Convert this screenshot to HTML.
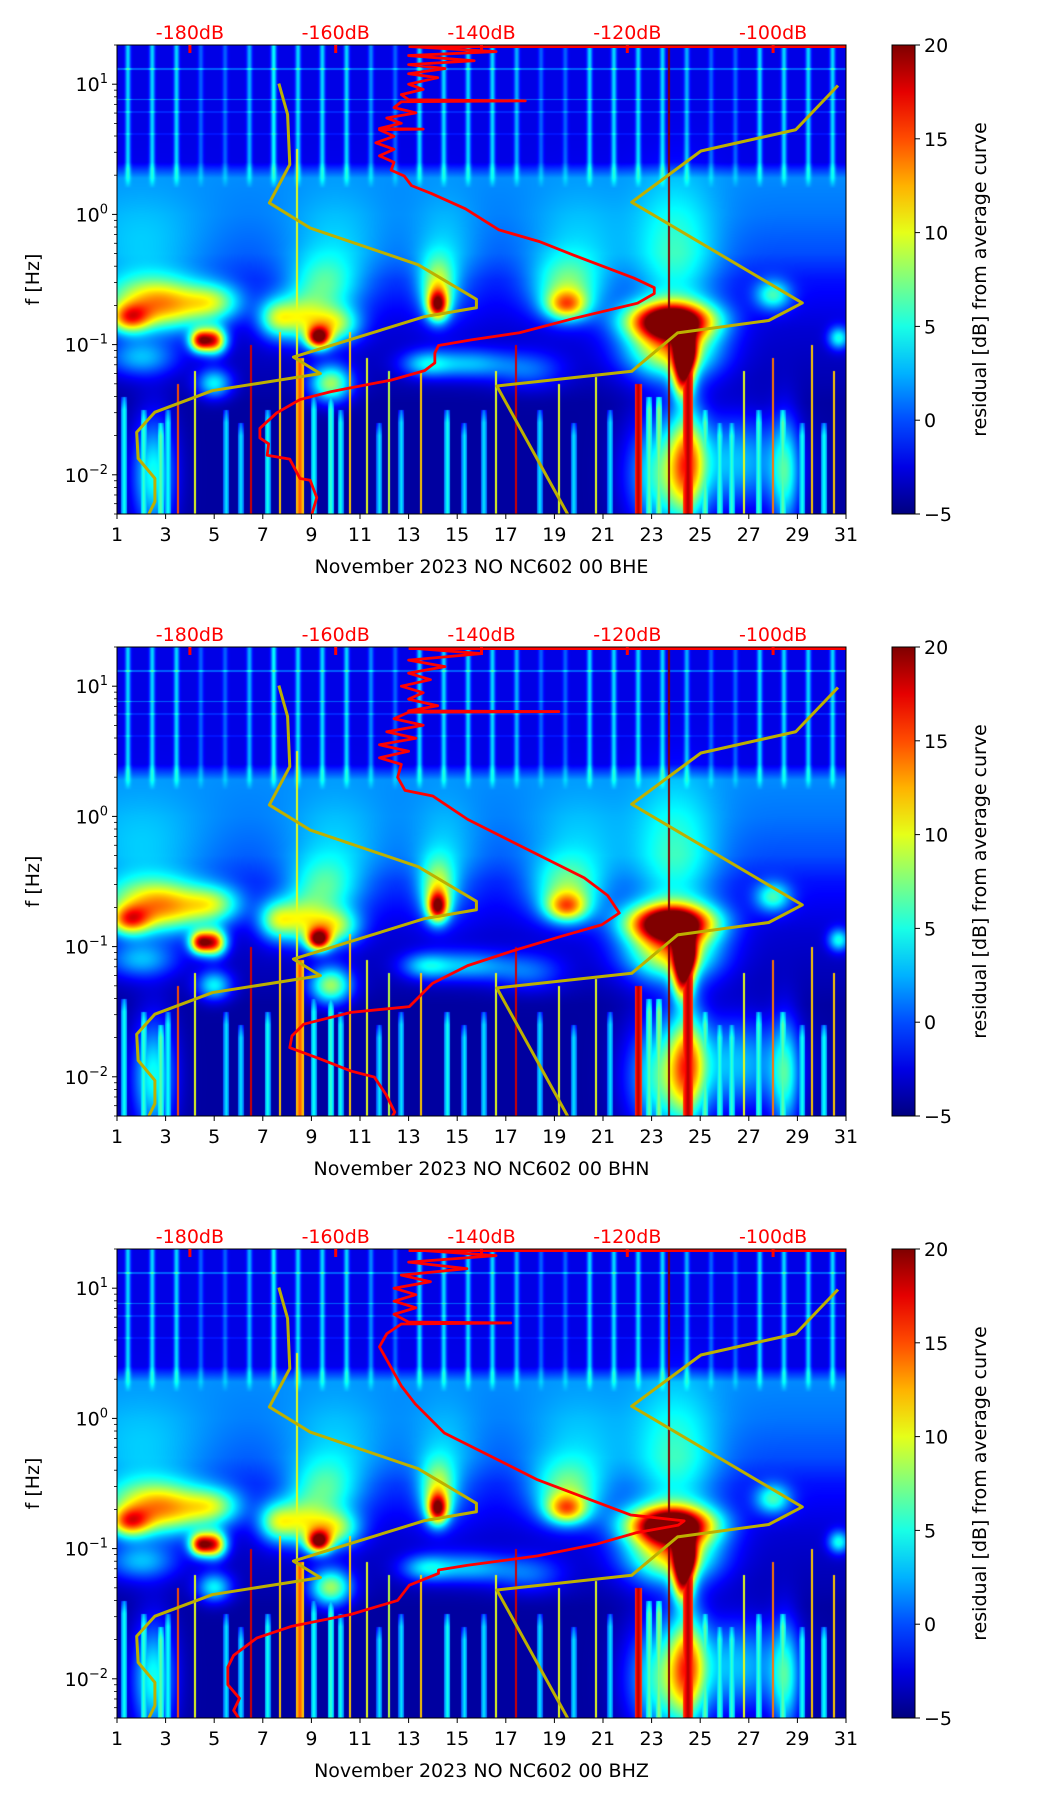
<!DOCTYPE html>
<html><head><meta charset="utf-8">
<style>
html,body{margin:0;padding:0;background:#fff;}
#wrap{position:relative;width:1052px;height:1806px;overflow:hidden;font-family:"DejaVu Sans","Liberation Sans",sans-serif;}
canvas{position:absolute;}
svg{position:absolute;left:0;top:0;}
</style></head>
<body>
<div id="wrap">
<svg id="ov" width="1052" height="1806"></svg>
</div>
<script>
// ---- data ----
const dayTicks=[1,3,5,7,9,11,13,15,17,19,21,23,25,27,29,31];
const dbTicks=[-180,-160,-140,-120,-100];
const cbTicks=[-5,0,5,10,15,20];
const fDecades=[-2,-1,0,1];
const channels=["BHE","BHN","BHZ"];
// background level per log10(f)
const baseLogf=[1.31,0.40,0.28,0.0,-0.3,-0.5,-0.9,-1.3,-1.45,-2.31];
const baseVal=[-2.5,-2.5,1.5,1,0,-1.5,-3,-3.8,-4.2,-4.2];
// daily cultural-noise stripe amplitude (day 1..30)
const dayAmp=[6,6,6,3,3,5,7,6,6,6,4,3,6,6,6,6,5,3,3,6,6,6,6,5,3,3,6,6,6,6];
// blobs: day, log10 f, sigma day, sigma logf, amplitude dB
const blobs=[
[1.5,-0.8,0.6,0.08,13],[3,-0.75,1.2,0.12,9],[4.4,-0.97,0.3,0.06,17],[5.0,-0.97,0.35,0.07,18],
[2.5,-0.62,1.5,0.12,8],[5,-0.68,0.8,0.1,8],[8.5,-0.8,0.8,0.12,10],[9.3,-0.95,0.35,0.06,19],
[10,-0.85,0.7,0.1,10],[9.5,-0.55,1,0.15,6],[14.2,-0.7,0.3,0.08,17],[14.2,-0.55,0.5,0.15,9],
[19.5,-0.7,0.6,0.08,12],[19.5,-0.55,1,0.15,7],[23.8,-0.82,1.2,0.1,26],[24.4,-1.05,0.3,0.1,20],
[24.3,-1.25,0.3,0.12,16],[23.8,-1.05,1.3,0.15,13],[24,-0.4,1.2,0.4,6],[28,-0.62,0.5,0.08,8],
[30.7,-0.95,0.3,0.06,8],[5,-1.3,0.5,0.08,8],[9.8,-1.3,0.6,0.1,12],[13.7,-1.15,0.7,0.07,6],
[15.5,-1.15,1.2,0.08,6],[18,-1.2,1,0.1,4],[2.5,-2.0,0.6,0.3,9],[23.5,-2.0,1.0,0.3,10],
[24.5,-1.9,0.5,0.3,12],[26.5,-1.9,1.5,0.25,7],[28.5,-2.0,0.4,0.3,8],
[2,-0.3,2,0.3,3],[10,-0.3,1.5,0.3,3],[20,-0.3,1.5,0.3,3],[14.5,-0.35,1,0.3,3],
[2,-1.1,1,0.1,6],[7.5,-0.8,0.5,0.1,7]];
// earthquake streaks: day, top log10 f, value
const quakes=[[6.5,-1.0,18],[8.4,0.5,10],[3.5,-1.3,15],[17.4,-1.0,18],[23.7,1.31,20],[10.6,-0.9,12],
[13.5,-1.2,12],[16.6,-1.2,10],[28,-1.1,14],[29.6,-1.0,12],[11.3,-1.1,10],[19.2,-1.3,10],[26.8,-1.2,10],
[30.5,-1.2,12],[4.2,-1.2,10],[7.7,-0.9,12],[12.2,-1.2,9],[20.7,-1.25,10]];
// faint long-period streaks: day, top log10 f, value
const faint=[[1.3,-1.4,5],[2.1,-1.5,6],[2.8,-1.6,7],[3.1,-1.5,5],[5.5,-1.5,4],[6.1,-1.6,4],[7.2,-1.5,5],[9.1,-1.4,5],[9.8,-1.4,6],[10.2,-1.5,5],[11.8,-1.6,4],[12.7,-1.5,4],[14.6,-1.5,5],[15.3,-1.6,4],[16.1,-1.5,4],[18.4,-1.5,4],[19.8,-1.6,4],[21.3,-1.5,4],[22.9,-1.4,7],[23.3,-1.4,8],[25.2,-1.5,7],[25.8,-1.6,6],[26.3,-1.6,6],[27.4,-1.5,6],[28.4,-1.5,7],[29.2,-1.6,5],[30.1,-1.6,5]];
// broad streak bands: day start, day end, top log10 f, value
const bands=[[8.35,8.7,-1.1,15],[22.3,22.6,-1.3,19],[24.3,24.7,-1.0,19]];
// horizontal lines: log10 f, value
const hLines=[[0.886,3],[1.12,3],[0.79,1.5],[0.62,1]];
// Peterson low / high noise models (dB, log10 f)
const nlnmDb=[-167.8,-166.6,-166.3,-169.1,-163.5,-148.7,-140.7,-140.7,-147.8,-165.8,-162.1,-176.9,-184.8,-187.3,-187.1,-184.8,-184.8,-185.7];
const nlnmLf=[1.005,0.768,0.383,0.088,-0.105,-0.386,-0.652,-0.717,-0.785,-1.096,-1.223,-1.353,-1.519,-1.673,-1.874,-2.028,-2.205,-2.31];
const nhnmDb=[-91.1,-96.9,-109.9,-119.4,-96.0,-100.6,-113.1,-119.4,-137.9,-128.1];
const nhnmLf=[0.99,0.65,0.487,0.094,-0.68,-0.815,-0.91,-1.205,-1.318,-2.31];
// average curves per channel
const avgDbE=[-150,-138,-150,-141,-150,-145,-150,-146,-150,-148,-151,-150,-134,-151,-152,-149,-153,-151,-154,-148,-154,-152,-154.5,-152,-154,-152,-152.4,-150.6,-149.6,-146.9,-142.2,-137.6,-132.1,-127.4,-119.1,-116.3,-116.3,-118.6,-127.4,-134.8,-141.3,-145.9,-146.4,-146.4,-147.8,-152.4,-158,-160.7,-164.9,-168.1,-170.4,-170.4,-169.2,-169.4,-166.3,-164.9,-163.5,-162.6,-163.3];
const avgLfE=[1.29,1.25,1.22,1.18,1.15,1.12,1.08,1.05,1.0,0.96,0.92,0.88,0.872,0.865,0.82,0.78,0.74,0.70,0.66,0.655,0.65,0.6,0.55,0.5,0.45,0.4,0.34,0.295,0.221,0.161,0.043,-0.119,-0.208,-0.312,-0.489,-0.563,-0.608,-0.682,-0.8,-0.909,-0.963,-1.007,-1.066,-1.14,-1.2,-1.273,-1.332,-1.362,-1.422,-1.525,-1.643,-1.717,-1.762,-1.85,-1.88,-2.028,-2.042,-2.175,-2.31];
const avgDbN=[-149,-140,-150,-145,-150,-147,-151,-148,-150,-146,-150,-129.4,-150,-152,-148,-153,-149,-154,-150,-154,-151,-151.5,-150.5,-146.7,-141.9,-135.5,-130.7,-125.9,-122.7,-121.1,-123.5,-129.1,-135.5,-141.9,-146.7,-148.3,-149.9,-157.9,-164.4,-166,-166.3,-162,-157.9,-154.7,-153.1,-151.9,-152.3];
const avgLfN=[1.29,1.25,1.2,1.15,1.1,1.05,1.0,0.95,0.9,0.85,0.81,0.805,0.80,0.75,0.7,0.65,0.6,0.55,0.5,0.45,0.4,0.3,0.2,0.157,-0.023,-0.203,-0.338,-0.472,-0.607,-0.742,-0.832,-0.922,-1.029,-1.146,-1.281,-1.371,-1.461,-1.505,-1.596,-1.686,-1.776,-1.866,-1.956,-2.002,-2.136,-2.271,-2.31];
const avgDbZ=[-148,-138,-150,-142,-151,-147,-152,-149,-152,-149,-152,-150,-136,-151,-153,-154,-153,-152,-151,-149.1,-145.1,-138.7,-132.3,-125.9,-119.5,-112.2,-113,-118.7,-124.3,-132.3,-141.9,-145.9,-145.9,-149.9,-151.5,-157.9,-166,-170.8,-174,-174.8,-174.8,-173.2,-174,-173.2];
const avgLfZ=[1.29,1.25,1.2,1.15,1.1,1.05,1.0,0.95,0.9,0.85,0.8,0.74,0.733,0.725,0.65,0.55,0.45,0.35,0.25,0.112,-0.112,-0.292,-0.472,-0.607,-0.742,-0.787,-0.82,-0.877,-0.967,-1.056,-1.128,-1.164,-1.191,-1.281,-1.398,-1.505,-1.596,-1.686,-1.82,-1.91,-2.045,-2.15,-2.243,-2.31];

// ---- layout ----
const L=117,R=846,PH=469,GAP=602,T0=45,CBX=892,CBW=23;
const LFTOP=Math.log10(20),LFBOT=Math.log10(0.005);
const xDay=d=>L+(d-1)*(R-L)/30;
const yLf=(lf,t)=>t+(LFTOP-lf)*PH/(LFTOP-LFBOT);
const lfY=(y)=>LFTOP-y*(LFTOP-LFBOT)/PH;
const xDb=db=>L+(db+190)*(R-L)/100;
const VMIN=-5,VMAX=20;
function jet(t){t=Math.max(0,Math.min(1,t));const c=v=>Math.max(0,Math.min(1,v));
return [c(1.5-Math.abs(4*t-3))*255,c(1.5-Math.abs(4*t-2))*255,c(1.5-Math.abs(4*t-1))*255];}
function interp(xs,ys,x){for(let i=0;i<xs.length-1;i++){if(x<=xs[i]&&x>=xs[i+1]){const f=(x-xs[i])/(xs[i+1]-xs[i]);return ys[i]+f*(ys[i+1]-ys[i]);}}return x>xs[0]?ys[0]:ys[ys.length-1];}

const wrap=document.getElementById('wrap');
const svg=document.getElementById('ov');
const NS='http://www.w3.org/2000/svg';
function mk(tag,attrs,parent){const e=document.createElementNS(NS,tag);for(const k in attrs)e.setAttribute(k,attrs[k]);(parent||svg).appendChild(e);return e;}

function heat(canvas){
 const W=R-L,H=PH;canvas.width=W;canvas.height=H;
 const ctx=canvas.getContext('2d');const img=ctx.createImageData(W,H);const d=img.data;
 const pxDay=30/W;
 for(let y=0;y<H;y++){
  const lf=lfY(y+0.5);
  const base=interp(baseLogf,baseVal,lf);
  const sf=Math.max(0,Math.min(1,(lf-0.2)/0.15));
  let hl=0;for(const h of hLines){if(Math.abs(yLf(h[0],0)-y)<0.8)hl=h[1];}
  for(let x=0;x<W;x++){
   const day=1+(x+0.5)*pxDay;
   let v=base+hl;
   if(sf>0){const di=Math.min(29,Math.floor(day-1));const fr=day-Math.floor(day)-0.45;v+=sf*dayAmp[di]*Math.exp(-fr*fr/0.012);}
   for(const b of blobs){const dx=(day-b[0])/b[2];if(dx>4||dx<-4)continue;const dy=(lf-b[1])/b[3];if(dy>4||dy<-4)continue;v+=b[4]*Math.exp(-0.5*(dx*dx+dy*dy));}
   for(const q of faint){if(lf<q[1]){const dd=Math.abs(day-q[0]);if(dd<pxDay*3)v=Math.max(v,q[2]-dd/pxDay*1.2-(q[1]-lf<0.1?(0.1-(q[1]-lf))*30:0));}}
   for(const q of quakes){if(lf<q[1]&&Math.abs(day-q[0])<pxDay*1.0)v=Math.max(v,q[2]);}
   for(const b of bands){if(lf<b[2]&&day>=b[0]&&day<=b[1])v=Math.max(v,b[3]-2*Math.abs(day-(b[0]+b[1])/2)/(b[1]-b[0])*4);}
   const c=jet((v-VMIN)/(VMAX-VMIN));const i=(y*W+x)*4;d[i]=c[0];d[i+1]=c[1];d[i+2]=c[2];d[i+3]=255;
  }
 }
 ctx.putImageData(img,0,0);
}

const avgDb=[avgDbE,avgDbN,avgDbZ],avgLf=[avgLfE,avgLfN,avgLfZ];
const defs=mk('defs',{});const lg=mk('linearGradient',{id:'jetg',x1:0,y1:1,x2:0,y2:0},defs);
for(let i=0;i<=10;i++){const c=jet(i/10);mk('stop',{offset:(i*10)+'%','stop-color':`rgb(${c[0]|0},${c[1]|0},${c[2]|0})`},lg);}

for(let p=0;p<3;p++){
 const t=T0+p*GAP;
 const cv=document.createElement('canvas');
 
 
 cv.style.left=L+'px';cv.style.top=t+'px';cv.style.width=(R-L)+'px';cv.style.height=PH+'px';
 wrap.insertBefore(cv,svg);heat(cv);
 const g=mk('g',{});
 
 
 const clip=mk('clipPath',{id:'cp'+p},defs);mk('rect',{x:L,y:t,width:R-L,height:PH},clip);
 const curves=mk('g',{'clip-path':`url(#cp${p})`},g);
 const nl=mk('polyline',{points:nlnmDb.map((v,i)=>xDb(v)+','+yLf(nlnmLf[i],t)).join(' '),fill:'none',stroke:'#bdb000',"stroke-width":3,"stroke-linejoin":'round'},curves);
 
 const nh=mk('polyline',{points:nhnmDb.map((v,i)=>xDb(v)+','+yLf(nhnmLf[i],t)).join(' '),fill:'none',stroke:'#bdb000',"stroke-width":3,"stroke-linejoin":'round'},curves);
 
 const av=mk('polyline',{points:avgDb[p].map((v,i)=>xDb(v)+','+yLf(avgLf[p][i],t)).join(' '),fill:'none',stroke:'#ff0000',"stroke-width":2.8,"stroke-linejoin":'round'},curves);
 
 const topLine=mk('line',{x1:xDb(-150),x2:R,y1:t+1.5,y2:t+1.5,stroke:'#ff0000','stroke-width':3},curves);
 
 const fr=mk('rect',{x:L,y:t,width:R-L,height:PH,fill:'none',stroke:'#000','stroke-width':1},g);
 
 for(const db of dbTicks){const x=xDb(db);
  mk('line',{x1:x,x2:x,y1:t,y2:t+8,stroke:'#ff0000','stroke-width':3},g);
  const tx=mk('text',{x:x,y:t-6,'text-anchor':'middle','font-size':19,fill:'#ff0000'},g);tx.textContent=db+'dB';
  }
 for(const d of dayTicks){const x=xDay(d);
  mk('line',{x1:x,x2:x,y1:t+PH,y2:t+PH+5,stroke:'#000','stroke-width':1},g);
  const tx=mk('text',{x:x,y:t+PH+27,'text-anchor':'middle','font-size':19,fill:'#000'},g);tx.textContent=d;
  }
 const xl=mk('text',{x:(L+R)/2,y:t+PH+59,'text-anchor':'middle','font-size':19,fill:'#000'},g);xl.textContent='November 2023 NO NC602 00 '+channels[p];
 
 for(const e of fDecades){const y=yLf(e,t);
  mk('line',{x1:L-5,x2:L,y1:y,y2:y,stroke:'#000','stroke-width':1},g);
  const tx=mk('text',{x:L-9,y:y+7,'text-anchor':'end','font-size':19,fill:'#000'},g);
  
  tx.appendChild(document.createTextNode('10'));const sp=mk('tspan',{dy:-8,'font-size':13},tx);sp.textContent=(e<0?'\u2212':'')+Math.abs(e);
  for(let m=2;m<=9;m++){const lf=e+Math.log10(m);if(lf>LFTOP)continue;const ym=yLf(lf,t);mk('line',{x1:L-3,x2:L,y1:ym,y2:ym,stroke:'#000','stroke-width':0.8},g);}
 }
 for(let m=5;m<=9;m++){const ym=yLf(-3+Math.log10(m),t);if(ym<=t+PH)mk('line',{x1:L-3,x2:L,y1:ym,y2:ym,stroke:'#000','stroke-width':0.8},g);}
 const yl=mk('text',{x:0,y:0,transform:`translate(39,${t+PH/2}) rotate(-90)`,'text-anchor':'middle','font-size':19,fill:'#000'},g);yl.textContent='f [Hz]';
 
 const cb=mk('rect',{x:CBX,y:t,width:CBW,height:PH,fill:'url(#jetg)',stroke:'#000','stroke-width':1},g);
 
 for(const v of cbTicks){const y=t+PH-(v-VMIN)/(VMAX-VMIN)*PH;
  mk('line',{x1:CBX+CBW,x2:CBX+CBW+5,y1:y,y2:y,stroke:'#000','stroke-width':1},g);
  const tx=mk('text',{x:CBX+CBW+9,y:y+7,'font-size':19,fill:'#000'},g);tx.textContent=v<0?'\u2212'+Math.abs(v):v;
  }
 const cl=mk('text',{x:0,y:0,transform:`translate(986,${t+PH/2}) rotate(-90)`,'text-anchor':'middle','font-size':19,fill:'#000'},g);cl.textContent='residual [dB] from average curve';
 
}
</script>
</body></html>
